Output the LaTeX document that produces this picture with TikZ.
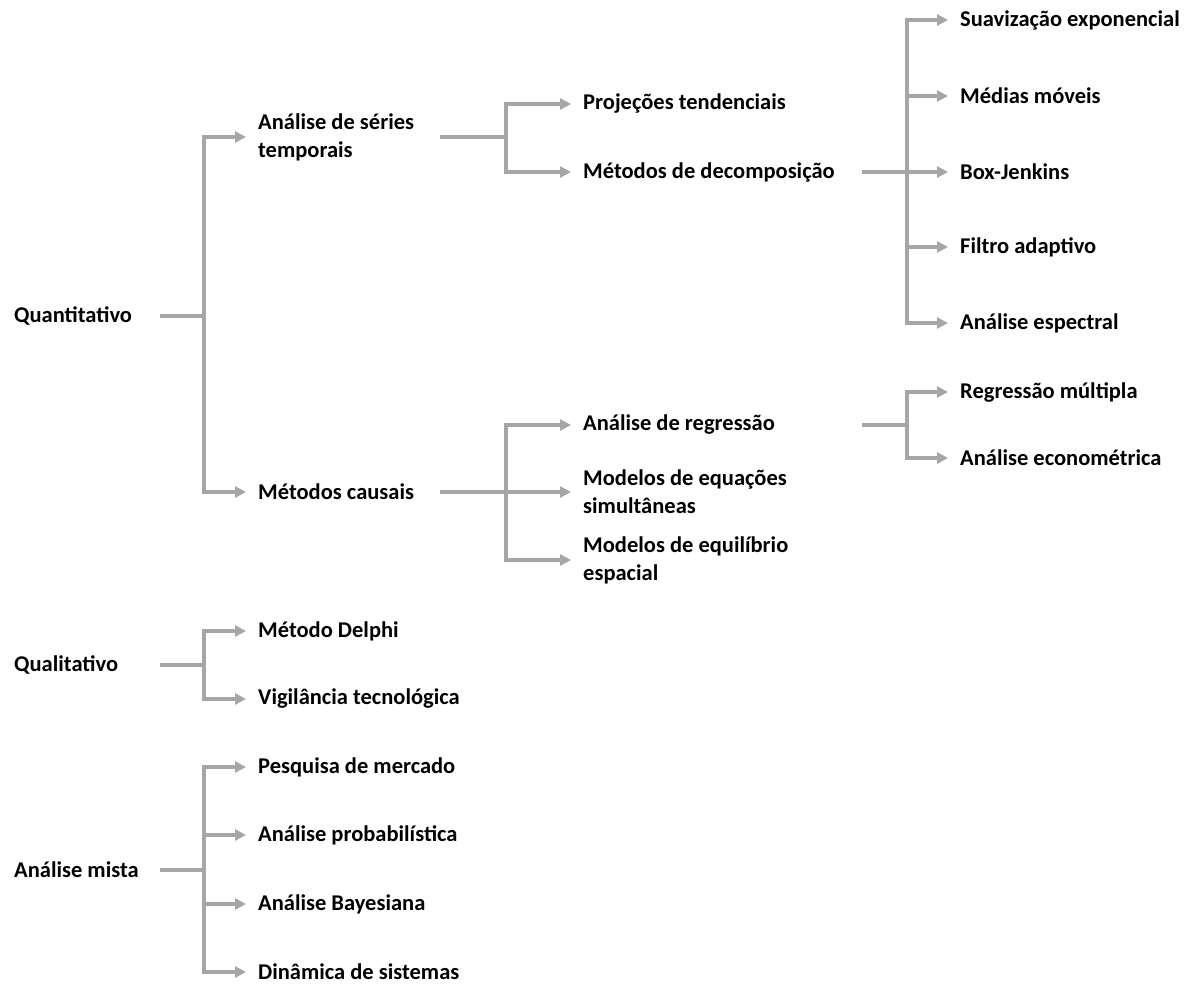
\documentclass[tikz,border=0pt]{standalone}
\usepackage{fontspec}
\setmainfont{Carlito}
\usetikzlibrary{
  positioning,
  arrows.meta
}
\definecolor{linegray}{HTML}{A6A6A6}

\begin{document}
\begin{tikzpicture}[
    x=1pt, y=-1pt, >={Triangle[length=11pt,width=11pt]},
    font=\fontsize{22.5}{28}\selectfont\bfseries,
    item/.style={
      anchor=west,
      align=left,
      inner sep=0pt
    },
    link/.style={
      draw=linegray,
      line width=3.5pt
    },
    branch/.style={
      link,
      ->,
      shorten >=12pt
    }
  ]
  \useasboundingbox (0,0) rectangle (1196,983);

  % Roots
  \node[item] (quanti) at (14,316) {Quantitativo};
  \node[item] (quali) at (14,665) {Qualitativo};
  \node[item] (mista) at (14,870) {Análise mista};

  % Second level
  \node[item] (series) at (258,137) {Análise de séries\\temporais};
  \node[item] (causais) at (258,492) {Métodos causais};
  \node[item] (delphi) at (258,631) {Método Delphi};
  \node[item] (vigil) at (258,699) {Vigilância tecnológica};
  \node[item] (pesquisa) at (258,767) {Pesquisa de mercado};
  \node[item] (probab) at (258,835) {Análise probabilística};
  \node[item] (bayes) at (258,904) {Análise Bayesiana};
  \node[item] (dinamica) at (258,972) {Dinâmica de sistemas};

  % Third level
  \node[item] (projecoes) at (583,104) {Projeções tendenciais};
  \node[item] (decomp) at (583,172) {Métodos de decomposição};
  \node[item] (regressao) at (583,425) {Análise de regressão};
  \node[item] (equacoes) at (583,492) {Modelos de equações\\simultâneas};
  \node[item] (equilibrio) at (583,560) {Modelos de equilíbrio\\espacial};

  % Fourth level
  \node[item] (suaviz) at (960,20) {Suavização exponencial};
  \node[item] (medias) at (960,96) {Médias móveis};
  \node[item] (box) at (960,172) {Box-Jenkins};
  \node[item] (filtro) at (960,247) {Filtro adaptivo};
  \node[item] (espectral) at (960,323) {Análise espectral};
  \node[item] (multipla) at (960,392) {Regressão múltipla};
  \node[item] (econometrica) at (960,458) {Análise econométrica};

  % Feeders and junctions
  \coordinate (quanti-out) at (160,316);
  \coordinate (quanti-j) at (204,316);
  \coordinate (quali-out) at (160,665);
  \coordinate (quali-j) at (204,665);
  \coordinate (mista-out) at (160,870);
  \coordinate (mista-j) at (204,870);
  \coordinate (series-out) at (440,137);
  \coordinate (series-j) at (506,137);
  \coordinate (causais-out) at (440,492);
  \coordinate (causais-j) at (506,492);
  \coordinate (decomp-out) at (862,172);
  \coordinate (decomp-j) at (907,172);
  \coordinate (regressao-out) at (862,425);
  \coordinate (regressao-j) at (907,425);

  % Quantitativo
  \draw[link] (quanti-out) -- (quanti-j);
  \draw[branch] (quanti-j) |- (series.west);
  \draw[branch] (quanti-j) |- (causais.west);

  \draw[link] (series-out) -- (series-j);
  \draw[branch] (series-j) |- (projecoes.west);
  \draw[branch] (series-j) |- (decomp.west);

  \draw[link] (decomp-out) -- (decomp-j);
  \draw[branch] (decomp-j) |- (suaviz.west);
  \draw[branch] (decomp-j) |- (medias.west);
  \draw[branch] (decomp-j) |- (box.west);
  \draw[branch] (decomp-j) |- (filtro.west);
  \draw[branch] (decomp-j) |- (espectral.west);

  \draw[link] (causais-out) -- (causais-j);
  \draw[branch] (causais-j) |- (regressao.west);
  \draw[branch] (causais-j) |- (equacoes.west);
  \draw[branch] (causais-j) |- (equilibrio.west);

  \draw[link] (regressao-out) -- (regressao-j);
  \draw[branch] (regressao-j) |- (multipla.west);
  \draw[branch] (regressao-j) |- (econometrica.west);

  % Qualitativo
  \draw[link] (quali-out) -- (quali-j);
  \draw[branch] (quali-j) |- (delphi.west);
  \draw[branch] (quali-j) |- (vigil.west);

  % Analise mista
  \draw[link] (mista-out) -- (mista-j);
  \draw[branch] (mista-j) |- (pesquisa.west);
  \draw[branch] (mista-j) |- (probab.west);
  \draw[branch] (mista-j) |- (bayes.west);
  \draw[branch] (mista-j) |- (dinamica.west);

\end{tikzpicture}
\end{document}
